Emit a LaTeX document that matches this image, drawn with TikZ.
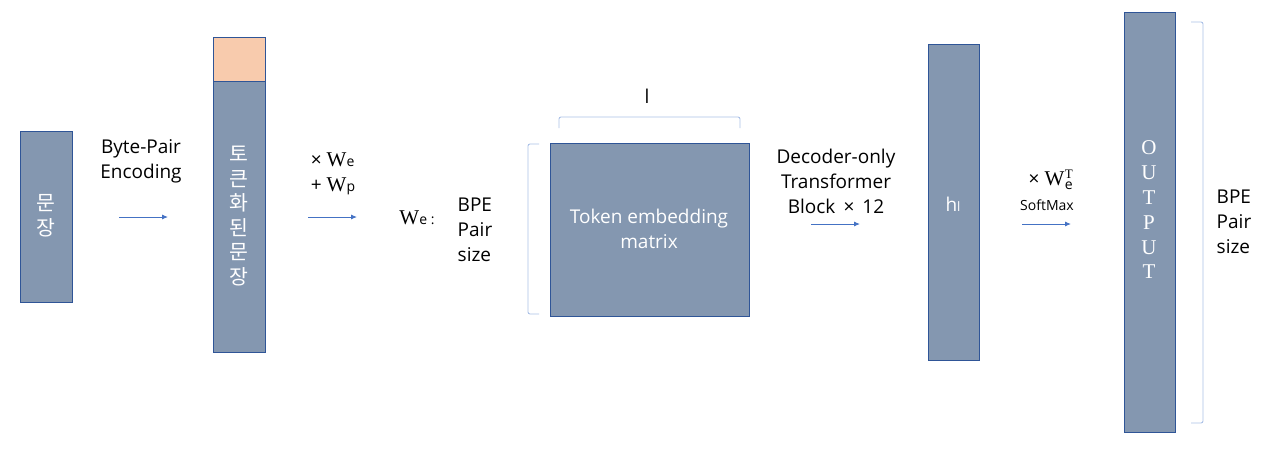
\documentclass[tikz,border=0pt]{standalone}
\usepackage{fontspec}
\setmainfont{Open Sans}
\newfontfamily\kr{Noto Sans CJK KR}
\newfontfamily\tms{Liberation Serif}
\usetikzlibrary{arrows.meta}
\definecolor{boxfill}{HTML}{8497B0}
\definecolor{boxline}{HTML}{2F5597}
\definecolor{orangefill}{HTML}{F8CBAD}
\definecolor{arrowc}{HTML}{4472C4}
\definecolor{brack}{HTML}{A9C0E6}
\tikzset{
  blk/.style={draw=boxline, line width=0.9pt, fill=boxfill, inner sep=0pt, anchor=north west},
  lbl/.style={align=center, inner sep=0pt, font=\fontsize{19}{25}\selectfont},
  wlbl/.style={lbl, text=white},
  flow/.style={draw=arrowc, line width=0.9pt, -{Latex[length=6pt,width=5pt]}},
  brk/.style={draw=brack, line width=0.9pt, rounded corners=2pt}
}
\begin{document}
\begin{tikzpicture}[x=1pt,y=-1pt]
\useasboundingbox (0,0) rectangle (1280,451);
% boxes
\node[blk, minimum width=52pt, minimum height=171pt] (s) at (20,131) {};
\node[blk, fill=orangefill, minimum width=52pt, minimum height=44pt] (tokhead) at (213,37) {};
\node[blk, minimum width=52pt, minimum height=271pt] (tok) at (213,81) {};
\node[blk, minimum width=199pt, minimum height=173pt] (emb) at (550,143) {};
\node[blk, minimum width=51pt, minimum height=316pt] (h) at (928,44) {};
\node[blk, minimum width=51pt, minimum height=420pt] (out) at (1124,12) {};
% box texts
\node[wlbl, font=\kr\fontsize{20.5}{25}\selectfont] (stxt) at (46,216) {문\\장};
\node[wlbl, font=\kr\fontsize{20.5}{24.6}\selectfont] (toktxt) at (239,216) {토\\큰\\화\\된\\문\\장};
\node[wlbl] (embtxt) at (649,229) {Token embedding\\matrix};
\node[wlbl] (htxt) at (953,204) {h{\fontsize{13}{13}\selectfont l}};
\node[wlbl, font=\tms\fontsize{21}{24.8}\selectfont] (outtxt) at (1149,210) {O\\U\\T\\P\\U\\T};
% labels
\node[lbl] (bpe) at (141,161) {Byte-Pair\\Encoding};
\node[lbl, align=left] (wewp) at (333,174) {× {\tms\fontsize{21}{21}\selectfont W}{\fontsize{14}{14}\selectfont e}\\+ {\tms\fontsize{21}{21}\selectfont W}{\fontsize{14}{14}\selectfont p}};
\node[lbl] (we) at (417,218) {{\tms\fontsize{21}{21}\selectfont W}{\fontsize{14}{14}\selectfont e :}};
\node[lbl, align=left] (bpel) at (475,230) {BPE\\Pair\\size};
\node[lbl] (ell) at (647,96) {l};
\node[lbl] (dec) at (836,181) {Decoder-only\\Transformer\\Block \,×\, 12};
\node[lbl] (wet) at (1051,180) {× {\tms\fontsize{21}{21}\selectfont W}\kern0.5pt$^{\hbox{\tms\fontsize{13}{13}\selectfont T}}_{\hbox{\fontsize{14}{14}\selectfont e}}$};
\node[lbl, font=\fontsize{14}{16}\selectfont] (smax) at (1047,205) {SoftMax};
\node[lbl, align=left] (bper) at (1234,222) {BPE\\Pair\\size};
% arrows
\coordinate (a1s) at (119,217); \coordinate (a1e) at (168,217);
\coordinate (a2s) at (308,217); \coordinate (a2e) at (357,217);
\coordinate (a3s) at (811,224); \coordinate (a3e) at (860,224);
\coordinate (a4s) at (1022,224); \coordinate (a4e) at (1071,224);
\draw[flow] (a1s) -- (a1e);
\draw[flow] (a2s) -- (a2e);
\draw[flow] (a3s) -- (a3e);
\draw[flow] (a4s) -- (a4e);
% brackets
\coordinate (lb1) at (539,144); \coordinate (lb2) at (528,144);
\coordinate (lb3) at (528,314); \coordinate (lb4) at (539,314);
\draw[brk] (lb1) -- (lb2) -- (lb3) -- (lb4);
\coordinate (tb1) at (559,128); \coordinate (tb2) at (559,117);
\coordinate (tb3) at (740,117); \coordinate (tb4) at (740,128);
\draw[brk] (tb1) -- (tb2) -- (tb3) -- (tb4);
\coordinate (rb1) at (1191,22); \coordinate (rb2) at (1203,22);
\coordinate (rb3) at (1203,423); \coordinate (rb4) at (1191,423);
\draw[brk] (rb1) -- (rb2) -- (rb3) -- (rb4);
\end{tikzpicture}
\end{document}
